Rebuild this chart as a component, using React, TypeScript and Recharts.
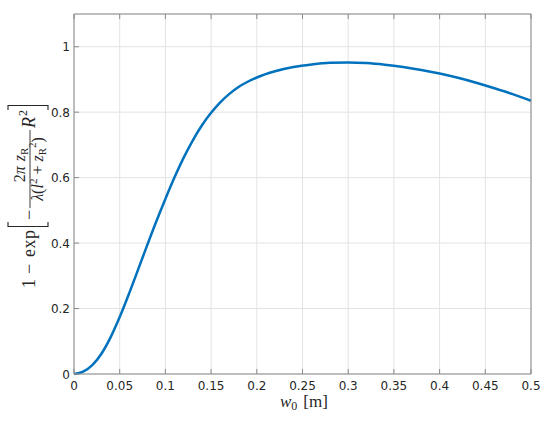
import { LineChart, Line, XAxis, YAxis, CartesianGrid } from 'recharts'

// beam waist w0 [m]
const W0 = [
  0, 0.01, 0.02, 0.03, 0.04, 0.05, 0.06, 0.07, 0.08, 0.09, 0.1, 0.11, 0.12,
  0.13, 0.14, 0.15, 0.16, 0.17, 0.18, 0.19, 0.2, 0.22, 0.24, 0.26, 0.28, 0.3,
  0.32, 0.34, 0.36, 0.38, 0.4, 0.42, 0.44, 0.46, 0.48, 0.5,
]

// coupling efficiency 1 - exp[...]
const ETA = [
  0, 0.007, 0.027, 0.062, 0.112, 0.174, 0.244, 0.318, 0.393, 0.466, 0.535,
  0.601, 0.661, 0.714, 0.76, 0.798, 0.83, 0.856, 0.877, 0.893, 0.906, 0.925,
  0.938, 0.946, 0.951, 0.952, 0.95, 0.945, 0.938, 0.929, 0.918, 0.905, 0.89,
  0.873, 0.855, 0.835,
]

const X_TICKS = [0, 0.05, 0.1, 0.15, 0.2, 0.25, 0.3, 0.35, 0.4, 0.45, 0.5]
const Y_TICKS = [0, 0.2, 0.4, 0.6, 0.8, 1]

const data = W0.map((w, i) => ({ w, eta: ETA[i] }))

const AXIS = '#8a8a8a'
const TEXT = '#262626'
const TICK_FONT = "'DejaVu Sans', sans-serif"
const SERIF = "'Liberation Serif', 'Times New Roman', serif"
const TL = 5

// eslint-disable-next-line @typescript-eslint/no-explicit-any
function BottomTick({ x, y, payload }: any) {
  return (
    <g>
      <line x1={x} x2={x} y1={y} y2={y - TL} stroke={AXIS} />
      <text x={x} y={y + 16} textAnchor="middle" fontSize={12} fontFamily={TICK_FONT} fill={TEXT}>
        {String(payload.value)}
      </text>
    </g>
  )
}

// eslint-disable-next-line @typescript-eslint/no-explicit-any
function TopTick({ x, y }: any) {
  return <line x1={x} x2={x} y1={y} y2={y + TL} stroke={AXIS} />
}

// eslint-disable-next-line @typescript-eslint/no-explicit-any
function LeftTick({ x, y, payload }: any) {
  return (
    <g>
      <line x1={x} x2={x + TL} y1={y} y2={y} stroke={AXIS} />
      <text x={x - 4} y={y + 4.5} textAnchor="end" fontSize={12} fontFamily={TICK_FONT} fill={TEXT}>
        {String(payload.value)}
      </text>
    </g>
  )
}

// eslint-disable-next-line @typescript-eslint/no-explicit-any
function RightTick({ x, y }: any) {
  return <line x1={x} x2={x - TL} y1={y} y2={y} stroke={AXIS} />
}

function YLabel() {
  return (
    <g transform="translate(28,196) rotate(-90)" fontFamily={SERIF} fill={TEXT}>
      <text x={-92} y={7} fontSize={18}>1</text>
      <text x={-78} y={7} fontSize={18}>−</text>
      <text x={-61} y={7} fontSize={18} textLength={27}>exp</text>
      <path d="M -26 -20 H -30.5 V 20 H -26" stroke={TEXT} strokeWidth={1.1} fill="none" />
      <text x={-24} y={7} fontSize={18}>−</text>
      <line x1={-12} x2={66} y1={2} y2={2} stroke={TEXT} strokeWidth={0.9} />
      <text x={31} y={-3} fontSize={16} textAnchor="middle">
        2<tspan fontStyle="italic">π</tspan>
        <tspan dx={5} fontStyle="italic">z</tspan>
        <tspan fontSize={11} dy={3}>R</tspan>
      </text>
      <text x={27} y={15} fontSize={16} textAnchor="middle">
        <tspan fontStyle="italic">λ</tspan>(<tspan fontStyle="italic">l</tspan>
        <tspan fontSize={11} dy={-6}>2</tspan>
        <tspan dy={6}> + </tspan>
        <tspan fontStyle="italic">z</tspan>
        <tspan fontSize={11} dy={3}>R</tspan>
        <tspan fontSize={11} dy={-10}>2</tspan>
        <tspan dy={7}>)</tspan>
      </text>
      <text x={68} y={7} fontSize={18} fontStyle="italic">R</text>
      <text x={80} y={-1} fontSize={12}>2</text>
      <path d="M 86 -20 H 90.5 V 20 H 86" stroke={TEXT} strokeWidth={1.1} fill="none" />
    </g>
  )
}

function XLabel() {
  return (
    <text x={280} y={407} fontSize={17} fontFamily={SERIF} fill={TEXT}>
      <tspan fontStyle="italic">w</tspan>
      <tspan fontSize={12} dy={3}>0</tspan>
      <tspan dx={6} dy={-3}>[m]</tspan>
    </text>
  )
}

export default function App() {
  return (
    <div style={{ position: 'absolute', left: 0, top: 0, width: 550, height: 421, background: '#fff' }}>
      <LineChart
        width={550}
        height={421}
        data={data}
        margin={{ top: 13, right: 18, bottom: 46, left: 73 }}
      >
        <CartesianGrid stroke="#e3e3e3" strokeWidth={1} />
        <XAxis
          dataKey="w"
          type="number"
          domain={[0, 0.5]}
          ticks={X_TICKS}
          height={1}
          tickSize={0}
          tickMargin={0}
          tickLine={false}
          axisLine={{ stroke: AXIS }}
          tick={<BottomTick />}
          interval={0}
        />
        <XAxis
          xAxisId="top"
          orientation="top"
          dataKey="w"
          type="number"
          domain={[0, 0.5]}
          ticks={X_TICKS}
          height={1}
          tickSize={0}
          tickMargin={0}
          tickLine={false}
          axisLine={{ stroke: AXIS }}
          tick={<TopTick />}
          interval={0}
        />
        <YAxis
          type="number"
          domain={[0, 1.1]}
          ticks={Y_TICKS}
          width={1}
          tickSize={0}
          tickMargin={0}
          tickLine={false}
          axisLine={{ stroke: AXIS }}
          tick={<LeftTick />}
          interval={0}
        />
        <YAxis
          yAxisId="right"
          orientation="right"
          type="number"
          domain={[0, 1.1]}
          ticks={Y_TICKS}
          width={1}
          tickSize={0}
          tickMargin={0}
          tickLine={false}
          axisLine={{ stroke: AXIS }}
          tick={<RightTick />}
          interval={0}
        />
        <Line
          dataKey="eta"
          type="monotone"
          stroke="#0072BD"
          strokeWidth={2.5}
          dot={false}
          isAnimationActive={false}
        />
        <XLabel />
        <YLabel />
      </LineChart>
    </div>
  )
}
